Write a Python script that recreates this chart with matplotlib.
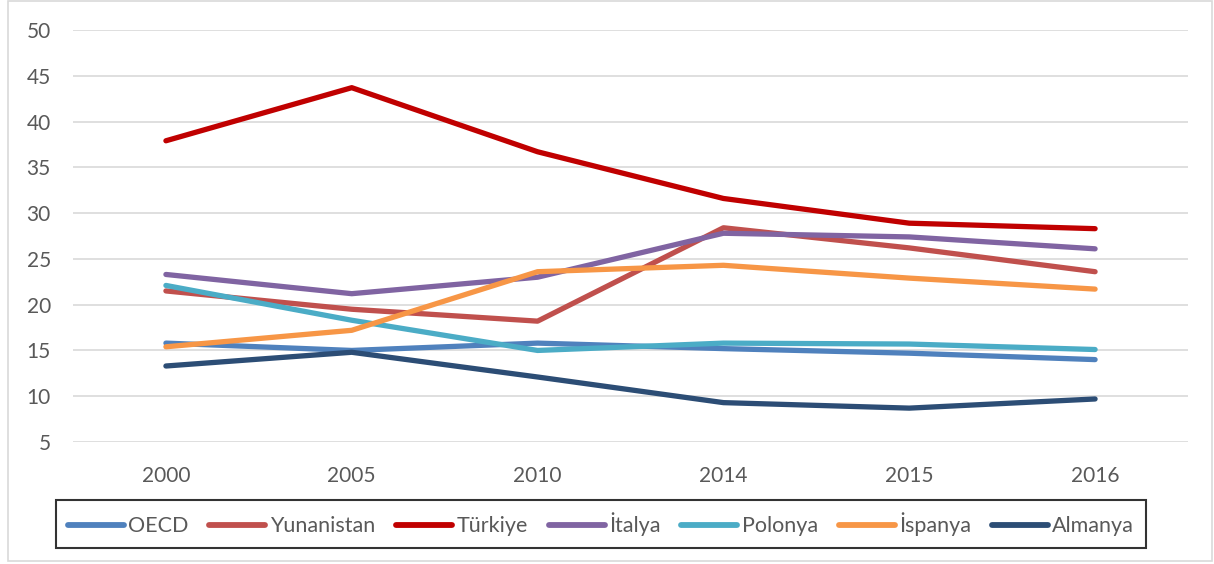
import matplotlib
matplotlib.use("Agg")
import matplotlib.pyplot as plt
from matplotlib.patches import Rectangle

years = ["2000", "2005", "2010", "2014", "2015", "2016"]
series_names = ["OECD", "Yunanistan", "Türkiye", "İtalya", "Polonya", "İspanya", "Almanya"]
oecd = [15.8, 15.0, 15.8, 15.2, 14.7, 14.0]
yunanistan = [21.5, 19.5, 18.2, 28.4, 26.2, 23.6]
turkiye = [37.9, 43.7, 36.7, 31.6, 28.9, 28.3]
italya = [23.3, 21.2, 23.0, 27.8, 27.4, 26.1]
polonya = [22.1, 18.3, 15.0, 15.8, 15.7, 15.1]
ispanya = [15.4, 17.2, 23.6, 24.3, 22.9, 21.7]
almanya = [13.3, 14.8, 12.1, 9.3, 8.7, 9.7]
y_ticks = [5, 10, 15, 20, 25, 30, 35, 40, 45, 50]

values = [oecd, yunanistan, turkiye, italya, polonya, ispanya, almanya]
colors = ["#4F81BD", "#C0504D", "#C00000", "#8064A2", "#4BACC6", "#F79646", "#2C4D75"]

plt.rcParams['font.family'] = ['Lato', 'DejaVu Sans']
txt = "#595959"

fig = plt.figure(figsize=(12.14, 5.64), dpi=100)
ax = fig.add_axes([73/1214, 1-442/564, (1188-73)/1214, (442-30)/564])

x = list(range(len(years)))
for name, vals, c in zip(series_names, values, colors):
    ax.plot(x, vals, color=c, lw=3.8, label=name, solid_capstyle='round', solid_joinstyle='round')

ax.set_xlim(-0.5, len(years) - 0.5)
ax.set_ylim(5, 50)
ax.set_yticks(y_ticks)
ax.set_xticks(x)
ax.set_xticklabels(years)
ax.yaxis.grid(True, color="#D9D9D9", lw=1.2)
ax.set_axisbelow(True)
for s in ax.spines.values():
    s.set_visible(False)
ax.tick_params(axis='both', length=0, labelsize=15, colors=txt)
ax.tick_params(axis='y', pad=16)
ax.tick_params(axis='x', pad=17)

leg = fig.legend(loc='lower left', bbox_to_anchor=(56/1214, 1-548/564, 1090/1214, 49/564),
                 mode='expand', ncol=7,
                 frameon=True, fancybox=False, edgecolor='black', fontsize=15.5,
                 handlelength=2.6, handletextpad=0.2, columnspacing=1.0,
                 borderpad=0.55, borderaxespad=0)
leg.get_frame().set_linewidth(1.5)
for t in leg.get_texts():
    t.set_color(txt)
for h in leg.get_lines():
    h.set_linewidth(4.2)

fig.patches.append(Rectangle((8/1214, 3/564), 1204/1214, 560/564, transform=fig.transFigure,
                             fill=False, edgecolor="#D9D9D9", lw=1.2))

fig.savefig("out.png", dpi=100, facecolor="white")
